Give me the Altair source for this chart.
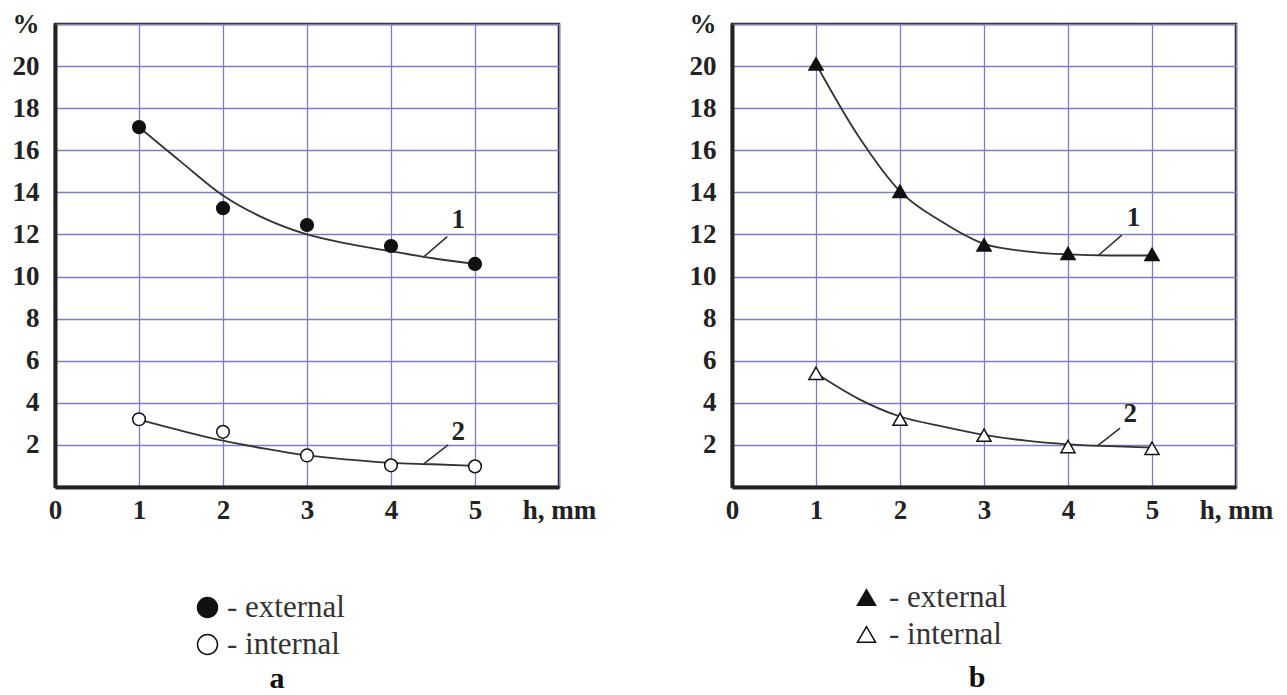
import altair as alt
import pandas as pd

FONT = "Liberation Serif"

# ---- data ----
h = [1, 2, 3, 4, 5]
a_external = [17.1, 13.25, 12.45, 11.45, 10.6]
a_internal = [3.22, 2.62, 1.5, 1.03, 0.98]
b_external = [20.1, 14.05, 11.5, 11.1, 11.05]
b_internal = [5.4, 3.22, 2.46, 1.92, 1.84]

curve_h = [1, 1.5, 2, 2.5, 3, 3.5, 4, 4.5, 5]
a_curve1 = [17.1, 15.45, 13.85, 12.75, 12.0, 11.55, 11.2, 10.87, 10.6]
a_curve2 = [3.2, 2.68, 2.2, 1.82, 1.5, 1.3, 1.15, 1.08, 1.0]
b_curve1 = [20.1, 16.7, 14.05, 12.6, 11.55, 11.2, 11.05, 11.0, 11.0]
b_curve2 = [5.4, 4.2, 3.35, 2.88, 2.48, 2.2, 2.03, 1.94, 1.87]

kinds = ["- external", "- internal"]
curve_names = ["1", "2"]

# leader lines (start on curve, end near label) and curve labels
a_lead_x = [4.38, 4.39]
a_lead_y = [10.9, 1.1]
a_lead_x2 = [4.67, 4.68]
a_lead_y2 = [11.9, 2.0]
a_lab_x = [4.8, 4.8]
a_lab_y = [12.7, 2.6]

b_lead_x = [4.36, 4.35]
b_lead_y = [11.0, 1.95]
b_lead_x2 = [4.64, 4.62]
b_lead_y2 = [11.97, 2.8]
b_lab_x = [4.78, 4.74]
b_lab_y = [12.77, 3.45]

x_ticks = [0, 1, 2, 3, 4, 5, 6]
y_ticks = [2, 4, 6, 8, 10, 12, 14, 16, 18, 20, 22]


def panel(ext, intl, c1, c2, lx, ly, lx2, ly2, tx, ty, shape, pt_size,
          leg_size, leg_x, leg_y, leg_offset, caption, cap_dx, cap_offset):
    pts = pd.DataFrame({
        "h": h + h,
        "v": ext + intl,
        "kind": [kinds[0]] * len(h) + [kinds[1]] * len(h),
    })
    curves = pd.DataFrame({
        "h": curve_h + curve_h,
        "v": c1 + c2,
        "curve": [curve_names[0]] * len(curve_h) + [curve_names[1]] * len(curve_h),
    })
    leads = pd.DataFrame({"h": lx, "v": ly, "h2": lx2, "v2": ly2})
    labs = pd.DataFrame({"h": tx, "v": ty, "t": curve_names})

    X = alt.X("h:Q", scale=alt.Scale(domain=[0, 6], nice=False),
              axis=alt.Axis(values=x_ticks, title=None, labelFlush=False,
                            labelOverlap=False, labelPadding=10,
                            labelExpr="datum.value == 6 ? 'h, mm' : datum.label"))
    Y = alt.Y("v:Q", scale=alt.Scale(domain=[0, 22], nice=False),
              axis=alt.Axis(values=y_ticks, title=None, labelFlush=False,
                            labelOverlap=False, labelPadding=16,
                            labelExpr="datum.value == 22 ? '%' : datum.label"))

    line = alt.Chart(curves).mark_line(
        interpolate="monotone", color="#333333", strokeWidth=1.8
    ).encode(x=X, y=Y, detail="curve:N")

    rule = alt.Chart(leads).mark_rule(color="#333333", strokeWidth=1.6).encode(
        x=X, y=Y, x2="h2:Q", y2="v2:Q")

    text = alt.Chart(labs).mark_text(
        font=FONT, fontSize=27, fontWeight="bold", color="#222222",
        align="center", baseline="middle"
    ).encode(x=X, y=Y, text="t:N")

    points = alt.Chart(pts).mark_point(
        shape=shape, size=pt_size, stroke="#111111", strokeWidth=1.5, opacity=1
    ).encode(
        x=X, y=Y,
        fill=alt.Fill("kind:N",
                      scale=alt.Scale(domain=kinds, range=["#111111", "#ffffff"]),
                      legend=alt.Legend(
                          title=None, orient="none", legendX=leg_x, legendY=leg_y,
                          symbolType=shape, symbolSize=leg_size,
                          symbolStrokeColor="#111111", symbolStrokeWidth=1.5,
                          labelFont=FONT, labelFontSize=31, labelColor="#333333",
                          labelOffset=leg_offset, rowPadding=5, padding=0,
                          labelLimit=400)),
    )

    return alt.layer(line, rule, text, points).properties(
        width=504, height=463,
        title=alt.TitleParams(caption, orient="bottom", font=FONT, fontSize=30,
                              fontWeight="bold", color="#111111", offset=cap_offset,
                              dx=cap_dx, anchor="middle"),
    )


left = panel(a_external, a_internal, a_curve1, a_curve2,
             a_lead_x, a_lead_y, a_lead_x2, a_lead_y2, a_lab_x, a_lab_y,
             "circle", 160, 400, 137, 568, 4, "a", -30, 4)
right = panel(b_external, b_internal, b_curve1, b_curve2,
              b_lead_x, b_lead_y, b_lead_x2, b_lead_y2, b_lab_x, b_lab_y,
              "triangle-up", 200, 330, 119, 558, 7, "b", -7, 13)

chart = alt.hconcat(left, right, spacing=90).resolve_scale(
    fill="independent"
).resolve_legend(fill="independent").configure_view(
    stroke="#222222", strokeWidth=2.5
).configure_axis(
    grid=True, gridColor="#7e7ebf", gridWidth=1.3, gridOpacity=1,
    ticks=False, domain=True, domainColor="#222222", domainWidth=4,
    labelFont=FONT, labelFontSize=27, labelFontWeight="bold", labelColor="#222222",
).properties(
    padding={"left": 10, "top": 8, "right": 5, "bottom": 5},
    background="white",
)

chart.save("out.html", embed_options={"renderer": "svg", "actions": False})
